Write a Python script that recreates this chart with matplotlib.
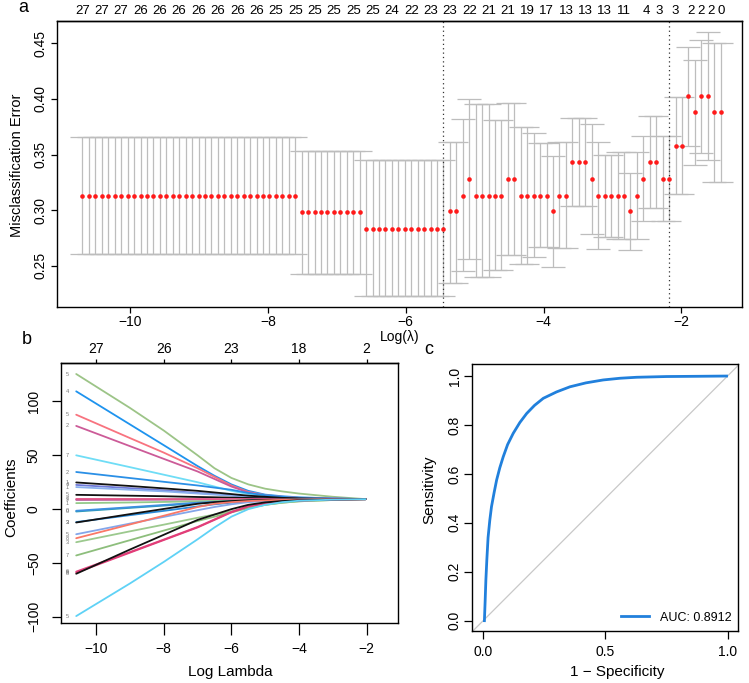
import numpy as np
import matplotlib
matplotlib.use('Agg')
import matplotlib.pyplot as plt

plt.rcParams['font.family'] = ['Liberation Sans', 'DejaVu Sans']
plt.rcParams['axes.linewidth'] = 1.0

W, H = 749, 683

# ---- panel a: cross-validation misclassification error ----
n_lambda = 100
loglam_first, loglam_last = -10.69, -1.43
loglam = np.linspace(loglam_first, loglam_last, n_lambda)

cvm_tail = [0.299, 0.299, 0.313, 0.328, 0.313, 0.313, 0.313, 0.313, 0.313, 0.328,
            0.328, 0.313, 0.313, 0.313, 0.313, 0.313, 0.299, 0.313, 0.313, 0.343,
            0.343, 0.343, 0.328, 0.313, 0.313, 0.313, 0.313, 0.313, 0.299, 0.313,
            0.328, 0.343, 0.343, 0.328, 0.328, 0.358, 0.358, 0.403, 0.388, 0.403,
            0.403, 0.388, 0.388]
cvup_tail = [0.3615, 0.3615, 0.382, 0.400, 0.3956, 0.3956, 0.3956, 0.381, 0.381, 0.396,
             0.396, 0.375, 0.375, 0.369, 0.360, 0.360, 0.349, 0.3615, 0.3615, 0.3825,
             0.3825, 0.3825, 0.377, 0.3615, 0.350, 0.350, 0.3525, 0.3525, 0.333, 0.3525,
             0.3666, 0.385, 0.385, 0.3666, 0.3666, 0.402, 0.402, 0.4467, 0.4354, 0.4533,
             0.4602, 0.4503, 0.4503]
cvlo_tail = [0.235, 0.235, 0.2455, 0.256, 0.240, 0.240, 0.240, 0.2464, 0.2464, 0.260,
             0.260, 0.252, 0.252, 0.258, 0.267, 0.267, 0.249, 0.266, 0.266, 0.304,
             0.304, 0.304, 0.279, 0.265, 0.276, 0.276, 0.274, 0.274, 0.264, 0.274,
             0.290, 0.3016, 0.3016, 0.290, 0.290, 0.3146, 0.3146, 0.358, 0.3406, 0.3516,
             0.3451, 0.3251, 0.3251]
cvm = np.array([0.313] * 34 + [0.298] * 10 + [0.2835] * 13 + cvm_tail)
cvup = np.array([0.366] * 34 + [0.3534] * 10 + [0.345] * 13 + cvup_tail)
cvlo = np.array([0.2608] * 34 + [0.2428] * 10 + [0.2225] * 13 + cvlo_tail)

idx_min, idx_1se = 56, 91

nzero_two = [27, 27, 27, 26, 26, 26, 26, 26, 26, 26, 25, 25, 25, 25, 25, 25, 24, 22,
             23, 23, 22, 21, 21, 19, 17, 13, 13, 13, 11]
nzero_one = [4, 3, 3, 2, 2, 2, 0]
nzero_one_pos = [-2.51, -2.32, -2.09, -1.86, -1.71, -1.565, -1.42]

# ---- panel b: coefficient paths ----
knots = [-10.59, -9, -8, -7, -6.5, -6, -5.5, -5, -4.5, -4, -3, -2.03]
paths = [
    ('#9cc487', '5', [125.5, 94, 73, 50, 38, 29, 23, 19, 16.5, 14.5, 11.5, 9.3]),
    ('#1e93ee', '4', [109.4, 78.7, 59.4, 40, 31, 23, 17, 13.5, 12, 11, 10, 9.3]),
    ('#f8737f', '5', [87.7, 66, 52.5, 38, 30, 22, 16, 13, 11.5, 10.5, 9.8, 9.3]),
    ('#cc5b98', '2', [77.3, 58.5, 46.7, 35, 28, 21, 15.5, 12.5, 11, 10.3, 9.7, 9.3]),
    ('#6fddf6', '7', [50, 39, 32, 25, 21, 17, 14, 12, 10.8, 10.2, 9.6, 9.3]),
    ('#2a8fe6', '2', [34.5, 28.9, 25.4, 22, 20, 18, 15, 13, 11.5, 10.5, 9.8, 9.3]),
    ('#6f79d8', '4', [22.5, 19.5, 17.5, 15, 14, 13, 12, 11, 10.3, 9.9, 9.5, 9.3]),
    ('#8ab0ee', '1', [20.5, 18, 16.5, 14.5, 13.5, 12.5, 11.5, 10.7, 10.1, 9.8, 9.5, 9.3]),
    ('#111111', '1', [24.8, 21.5, 19.3, 17, 15.5, 14, 12.5, 11.5, 10.5, 10, 9.5, 9.3]),
    ('#111111', '5', [13.3, 12.5, 12, 11.3, 11, 10.7, 10.4, 10.1, 9.8, 9.6, 9.4, 9.3]),
    ('#a5307f', '9', [8.7, 8.8, 8.9, 9.0, 9.0, 9.1, 9.1, 9.2, 9.2, 9.2, 9.3, 9.3]),
    ('#e65c8c', '7', [9.5, 9.5, 9.4, 9.4, 9.4, 9.4, 9.3, 9.3, 9.3, 9.3, 9.3, 9.3]),
    ('#93c98a', '1', [5.6, 6.2, 6.7, 7.3, 7.6, 7.9, 8.2, 8.5, 8.8, 9.0, 9.2, 9.3]),
    ('#2c9cb4', '0', [-2.2, 1.2, 3.3, 5.5, 6.3, 7, 7.6, 8.1, 8.5, 8.8, 9.1, 9.3]),
    ('#3d8fe0', '0', [-1.5, 1.8, 3.9, 6, 6.8, 7.4, 7.9, 8.3, 8.6, 8.9, 9.1, 9.3]),
    ('#2a8ad8', '3', [-12, -5.6, -1.6, 2.5, 4.5, 6, 7.2, 8, 8.5, 8.9, 9.1, 9.3]),
    ('#111111', '3', [-12.4, -4.6, 0.2, 5, 6.5, 7.5, 8.2, 8.6, 8.9, 9.1, 9.2, 9.3]),
    ('#84a6ea', '5', [-23.3, -13.4, -7.2, -1, 2, 4.5, 6.5, 7.5, 8.2, 8.7, 9.1, 9.3]),
    ('#fa7867', '8', [-27, -14.2, -6.1, 2, 5, 6.5, 7.5, 8.2, 8.6, 8.9, 9.1, 9.3]),
    ('#9cc98e', '3', [-30.7, -20.6, -14.4, -8, -5, -2, 1.5, 4, 6, 7.3, 8.5, 9.3]),
    ('#8dbe7c', '7', [-43, -28.8, -19.9, -11, -7, -3, 1, 4, 6, 7.3, 8.5, 9.3]),
    ('#e0457e', '6', [-58, -39.8, -28.2, -16.5, -9.5, -2.5, 2.8, 5.6, 7.2, 8, 8.8, 9.3]),
    ('#e23d78', '8', [-59, -40.4, -28.7, -17, -10, -3, 2.5, 5.5, 7.2, 8, 8.8, 9.3]),
    ('#111111', '8', [-60, -37.5, -23.8, -10, -5, 0, 4, 6.3, 7.5, 8.2, 8.9, 9.3]),
    ('#5fd2f6', '5', [-99.3, -69, -49, -28, -17, -7, 0, 4, 6.5, 7.8, 8.8, 9.3]),
]
b_top_ticks = [-10, -8, -6, -4, -2]
b_top_labels = ['27', '26', '23', '18', '2']

# ---- panel c: ROC ----
fpr = [0.005, 0.008, 0.011, 0.015, 0.02, 0.027, 0.034, 0.045, 0.055, 0.068, 0.082,
       0.1, 0.123, 0.15, 0.178, 0.21, 0.246, 0.3, 0.355, 0.42, 0.491, 0.56, 0.628,
       0.75, 0.88, 0.996]
tpr = [0.0, 0.08, 0.166, 0.25, 0.34, 0.41, 0.466, 0.525, 0.575, 0.625, 0.67,
       0.72, 0.766, 0.81, 0.847, 0.88, 0.909, 0.935, 0.956, 0.972, 0.984, 0.991, 0.995,
       0.998, 0.999, 1.0]
auc_text = 'AUC: 0.8912'


def box(l, t, r, b):
    return [l / W, 1 - b / H, (r - l) / W, (b - t) / H]


fig = plt.figure(figsize=(W / 100, H / 100), dpi=100)

# panel a
ax = fig.add_axes(box(57, 21, 742, 307))
ax.errorbar(loglam, cvm, yerr=[cvm - cvlo, cvup - cvm], fmt='none', ecolor='#bdbdbd',
            elinewidth=0.9, capsize=8.5, capthick=0.9, zorder=1)
ax.plot(loglam, cvm, 'o', color='#ff1a1a', ms=3.3, mec='none', zorder=3)
ax.axvline(loglam[idx_min], color='#333333', ls=(0, (1, 2.5)), lw=0.9)
ax.axvline(loglam[idx_1se], color='#333333', ls=(0, (1, 2.5)), lw=0.9)
ax.set_xlim(-11.06, -1.12)
ax.set_ylim(0.213, 0.470)
ax.set_xticks([-10, -8, -6, -4, -2])
ax.set_yticks([0.25, 0.30, 0.35, 0.40, 0.45])
ax.set_yticklabels(['0.25', '0.30', '0.35', '0.40', '0.45'])
ax.tick_params(axis='both', direction='out', length=4.5, width=0.9, labelsize=10, pad=1.5)
ax.tick_params(axis='y', labelrotation=90, pad=2)
for lab in ax.get_yticklabels():
    lab.set_va('center')
top_pos = list(loglam[0:85:3]) + nzero_one_pos
top_lab = [str(v) for v in nzero_two + nzero_one]
sec = ax.secondary_xaxis('top')
sec.set_xticks(top_pos)
sec.set_xticklabels(top_lab)
sec.tick_params(length=0, labelsize=9.5, pad=3)
fig.text(17 / W, 1 - 165 / H, 'Misclassification Error', rotation=90, ha='center',
         va='center', fontsize=10.5)
fig.text(400 / W, 1 - 337 / H, 'Log(λ)', ha='center', va='center', fontsize=10)
fig.text(23 / W, 1 - 8 / H, 'a', ha='center', va='center', fontsize=13)

# panel b
axb = fig.add_axes(box(61, 362.7, 397.7, 623.3))
for col, lab, vals in paths:
    axb.plot(knots, vals, color=col, lw=1.3, solid_capstyle='round')
    axb.text(-10.86, vals[0], lab, fontsize=4, color='#777777', ha='center', va='center')
axb.set_xlim(-11.04, -1.08)
axb.set_ylim(-106, 136)
axb.set_xticks([-10, -8, -6, -4, -2])
axb.set_yticks([-100, -50, 0, 50, 100])
axb.tick_params(axis='x', direction='out', length=8.5, width=0.9, labelsize=10, pad=5)
axb.tick_params(axis='y', direction='out', length=6.5, width=0.9, labelsize=10,
                labelrotation=90, pad=8)
for lab in axb.get_yticklabels():
    lab.set_va('center')
secb = axb.secondary_xaxis('top')
secb.set_xticks(b_top_ticks)
secb.set_xticklabels(b_top_labels)
secb.tick_params(direction='out', length=3, width=0.9, labelsize=10, pad=2)
fig.text(11 / W, 1 - 497 / H, 'Coefficients', rotation=90, ha='center', va='center',
         fontsize=11)
fig.text(230 / W, 1 - 672 / H, 'Log Lambda', ha='center', va='center', fontsize=11)
fig.text(27 / W, 1 - 340 / H, 'b', ha='center', va='center', fontsize=13)

# panel c
axc = fig.add_axes(box(471.7, 364.3, 738.3, 630.7))
axc.axline((0, 0), (1, 1), color='#c8c8c8', lw=0.9)
axc.plot(fpr, tpr, color='#2180dc', lw=2.0, label=auc_text)
axc.set_xlim(-0.047, 1.044)
axc.set_ylim(-0.041, 1.048)
axc.set_xticks([0.0, 0.5, 1.0])
axc.set_xticklabels(['0.0', '0.5', '1.0'])
axc.set_yticks([0.0, 0.2, 0.4, 0.6, 0.8, 1.0])
axc.set_yticklabels(['0.0', '0.2', '0.4', '0.6', '0.8', '1.0'])
axc.tick_params(axis='both', direction='out', length=5.5, width=0.9, labelsize=10, pad=4.5)
axc.tick_params(axis='y', labelrotation=90, pad=1.5)
for lab in axc.get_yticklabels():
    lab.set_va('center')
axc.legend(loc='lower right', frameon=False, fontsize=9, handlelength=2.2,
           handletextpad=0.9, borderaxespad=0.15)
fig.text(429 / W, 1 - 490 / H, 'Sensitivity', rotation=90, ha='center', va='center',
         fontsize=11)
fig.text(617 / W, 1 - 672 / H, '1 − Specificity', ha='center', va='center', fontsize=11)
fig.text(429 / W, 1 - 349 / H, 'c', ha='center', va='center', fontsize=13)

fig.savefig('out.png', dpi=100)
